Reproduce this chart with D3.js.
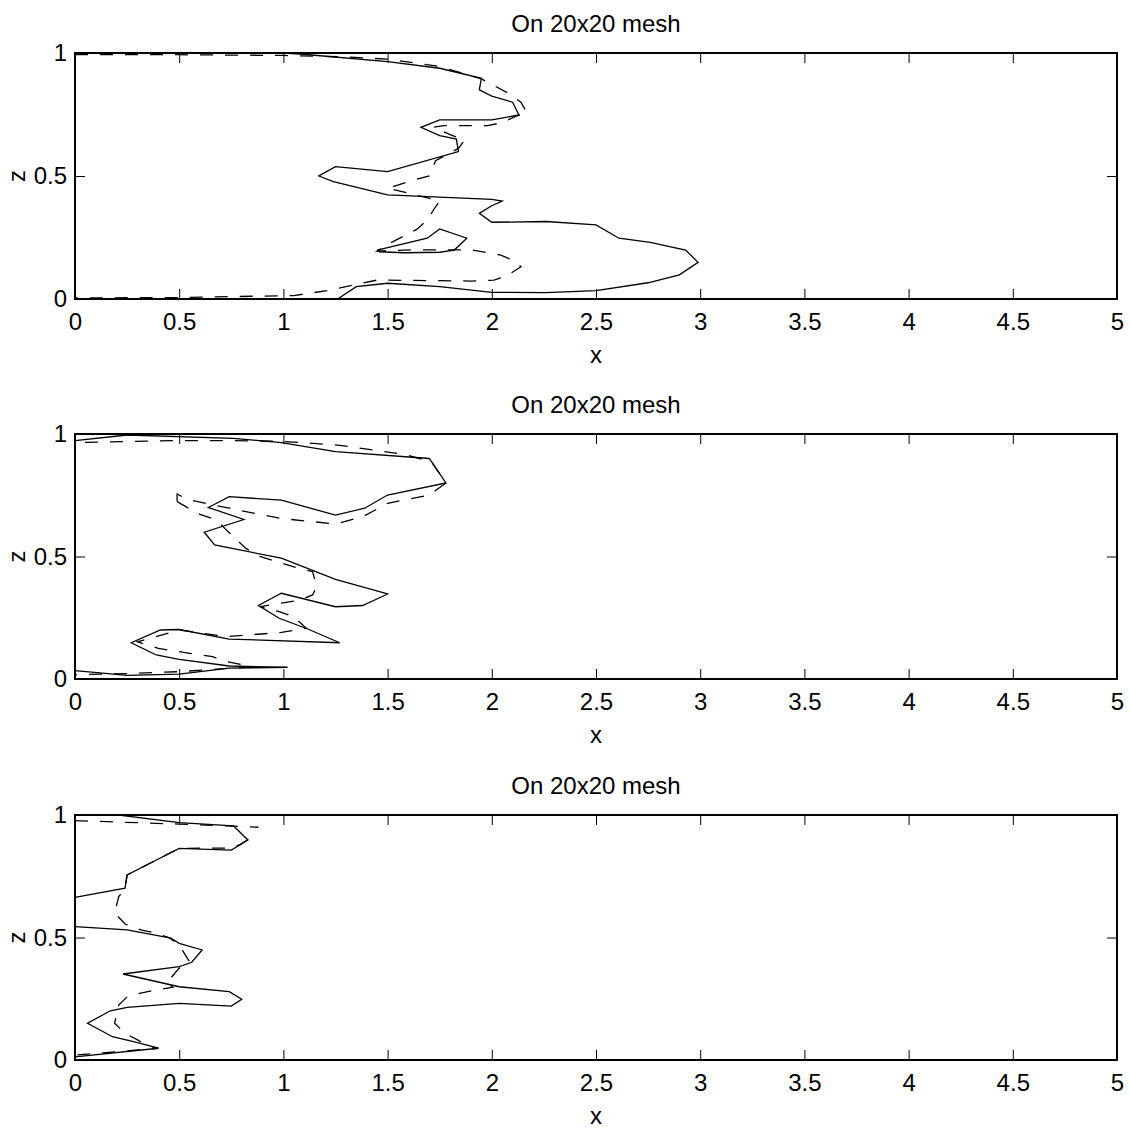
<!DOCTYPE html>
<html>
<head>
<meta charset="utf-8">
<script src="https://cdn.jsdelivr.net/npm/d3@7"></script>
<style>
  html, body { margin: 0; padding: 0; background: #fff; }
  svg { display: block; }
  text { font-family: "Liberation Sans", Arial, Helvetica, sans-serif; fill: #000; }
</style>
</head>
<body>
<svg id="chart" width="1130" height="1130"></svg>
<script>
// Axis ticks
const xTicks = [0, 0.5, 1, 1.5, 2, 2.5, 3, 3.5, 4, 4.5, 5];
const zTicks = [0, 0.5, 1];
const titleText = "On 20x20 mesh";

// Panel 1 contours, [x, z]
const solid1a = [[1.0,1.0],[1.08,0.996],[1.50,0.965],[1.75,0.938],[1.95,0.897],[1.94,0.85],[2.0,0.825],[2.10,0.80],[2.13,0.748],[2.0,0.728],[1.75,0.728],[1.66,0.698],[1.75,0.664],[1.83,0.65],[1.84,0.599],[1.50,0.518],[1.25,0.538],[1.17,0.50],[1.24,0.477],[1.50,0.423],[2.0,0.405],[2.05,0.398],[2.0,0.379],[1.94,0.348],[2.0,0.312],[2.26,0.315],[2.50,0.301],[2.61,0.247],[2.76,0.23],[2.93,0.199],[2.99,0.149],[2.90,0.098],[2.75,0.066],[2.50,0.034],[2.26,0.026],[2.0,0.027],[1.75,0.05],[1.50,0.064],[1.35,0.05],[1.26,0.0]];
const solid1b = [[1.45,0.199],[1.69,0.247],[1.75,0.285],[1.88,0.247],[1.82,0.199],[1.75,0.19],[1.58,0.188],[1.46,0.192],[1.45,0.199]];
const dashed1 = [[0,0.993],[0.5,0.993],[1.0,0.99],[1.3,0.984],[1.5,0.975],[1.75,0.945],[1.95,0.895],[2.08,0.836],[2.14,0.80],[2.17,0.755],[2.12,0.744],[2.05,0.717],[1.98,0.705],[1.77,0.705],[1.72,0.698],[1.80,0.668],[1.87,0.646],[1.84,0.612],[1.78,0.585],[1.73,0.562],[1.70,0.50],[1.62,0.483],[1.50,0.45],[1.58,0.434],[1.72,0.405],[1.75,0.398],[1.73,0.375],[1.69,0.321],[1.64,0.283],[1.51,0.226],[1.45,0.195],[1.62,0.20],[1.90,0.20],[2.04,0.179],[2.10,0.158],[2.14,0.131],[2.07,0.093],[2.01,0.077],[1.90,0.073],[1.45,0.077],[1.21,0.034],[1.05,0.014],[0.5,0.006],[0,0.004]];

// Panel 2 contours
const solid2 = [[0,0.973],[0.25,0.996],[0.76,0.982],[0.99,0.965],[1.25,0.928],[1.70,0.90],[1.78,0.80],[1.50,0.751],[1.39,0.697],[1.25,0.669],[0.99,0.73],[0.74,0.744],[0.64,0.70],[0.81,0.651],[0.62,0.599],[0.67,0.547],[0.99,0.493],[1.25,0.407],[1.50,0.347],[1.38,0.30],[1.25,0.295],[0.99,0.35],[0.88,0.30],[0.98,0.248],[1.12,0.203],[1.27,0.148],[0.74,0.163],[0.50,0.202],[0.41,0.20],[0.27,0.148],[0.39,0.098],[0.50,0.08],[0.74,0.053],[1.02,0.048],[0.74,0.044],[0.50,0.02],[0.25,0.015],[0,0.034]];
const dashed2a = [[0.49,0.724],[0.49,0.755],[0.54,0.733],[0.74,0.697],[0.99,0.655],[1.25,0.633],[1.38,0.662],[1.50,0.717],[1.70,0.751],[1.78,0.80],[1.71,0.887],[1.58,0.917],[1.26,0.955],[0.99,0.97],[0.76,0.973],[0.49,0.973],[0,0.965]];
const dashed2b = [[0.49,0.724],[0.56,0.69],[0.60,0.672],[0.67,0.652],[0.71,0.622],[0.76,0.581],[0.82,0.533],[0.89,0.499],[1.05,0.458],[1.14,0.438],[1.16,0.377],[1.14,0.343],[1.08,0.322],[0.99,0.31],[0.89,0.295],[0.98,0.275],[1.05,0.254],[1.11,0.207],[0.99,0.19],[0.73,0.173],[0.50,0.20],[0.30,0.152],[0.40,0.125],[0.55,0.105],[0.66,0.091],[0.73,0.071],[0.85,0.05],[0.50,0.03],[0.25,0.022],[0,0.018]];

// Panel 3 contours
const solid3a = [[0.21,1.0],[0.50,0.969],[0.76,0.956],[0.83,0.898],[0.75,0.857],[0.50,0.864],[0.36,0.803],[0.25,0.755],[0.24,0.701],[0,0.664]];
const solid3b = [[0,0.544],[0.25,0.531],[0.46,0.497],[0.50,0.476],[0.61,0.449],[0.56,0.399],[0.50,0.381],[0.23,0.351],[0.50,0.299],[0.74,0.279],[0.80,0.248],[0.75,0.22],[0.50,0.231],[0.25,0.215],[0.17,0.201],[0.06,0.15],[0.18,0.095],[0.30,0.071],[0.40,0.048],[0,0.013]];
const dashed3a = [[0,0.977],[0.5,0.963],[0.88,0.95]];
const dashed3b = [[0.83,0.90],[0.79,0.878],[0.73,0.865],[0.50,0.864],[0.36,0.803],[0.25,0.755],[0.24,0.70],[0.21,0.667],[0.19,0.60],[0.24,0.555],[0.32,0.53],[0.38,0.52],[0.45,0.50],[0.50,0.47],[0.55,0.40],[0.50,0.375],[0.44,0.315],[0.47,0.297],[0.39,0.286],[0.31,0.272],[0.25,0.258],[0.21,0.224],[0.19,0.15],[0.24,0.109],[0.30,0.082],[0.35,0.057],[0.40,0.048],[0,0.02]];

const panels = [
  { top: 53,  bottom: 299,  solid: [solid1a, solid1b], dashed: [dashed1] },
  { top: 434, bottom: 679,  solid: [solid2],           dashed: [dashed2a, dashed2b] },
  { top: 815, bottom: 1060, solid: [solid3a, solid3b], dashed: [dashed3a, dashed3b] }
];

const left = 75, right = 1117;
const fontSize = 24;
const svg = d3.select("#chart");
const fmt = d => String(d);

panels.forEach(p => {
  const x = d3.scaleLinear().domain([0, 5]).range([left, right]);
  const y = d3.scaleLinear().domain([0, 1]).range([p.bottom, p.top]);
  const g = svg.append("g");

  const line = d3.line().x(d => x(d[0])).y(d => y(d[1]));

  const clipId = "clip" + p.top;
  g.append("clipPath").attr("id", clipId)
    .append("rect").attr("x", left).attr("y", p.top)
    .attr("width", right - left).attr("height", p.bottom - p.top);

  const curves = g.append("g").attr("clip-path", `url(#${clipId})`);
  p.dashed.forEach(s => curves.append("path").datum(s).attr("d", line)
    .attr("fill", "none").attr("stroke", "#000").attr("stroke-width", 1.3)
    .attr("stroke-dasharray", "13,12"));
  p.solid.forEach(s => curves.append("path").datum(s).attr("d", line)
    .attr("fill", "none").attr("stroke", "#000").attr("stroke-width", 1.3));

  // Axes with inward ticks on all four sides
  const bottomAx = g.append("g").attr("transform", `translate(0,${p.bottom})`)
    .call(d3.axisBottom(x).tickValues(xTicks).tickSize(-10).tickPadding(14).tickFormat(fmt));
  const topAx = g.append("g").attr("transform", `translate(0,${p.top})`)
    .call(d3.axisTop(x).tickValues(xTicks).tickSize(-10).tickFormat(""));
  const leftAx = g.append("g").attr("transform", `translate(${left},0)`)
    .call(d3.axisLeft(y).tickValues(zTicks).tickSize(-10).tickPadding(8).tickFormat(fmt));
  const rightAx = g.append("g").attr("transform", `translate(${right},0)`)
    .call(d3.axisRight(y).tickValues(zTicks).tickSize(-10).tickFormat(""));

  [bottomAx, topAx, leftAx, rightAx].forEach(a => {
    a.select(".domain").remove();
    a.selectAll(".tick line").attr("stroke", "#000").attr("stroke-width", 1);
    a.selectAll("text").style("font-size", fontSize + "px")
      .style("font-family", "'Liberation Sans', Arial, sans-serif").attr("fill", "#000");
  });

  g.append("rect").attr("x", left).attr("y", p.top)
    .attr("width", right - left).attr("height", p.bottom - p.top)
    .attr("fill", "none").attr("stroke", "#000").attr("stroke-width", 2);

  g.append("text").attr("x", (left + right) / 2).attr("y", p.top - 21)
    .attr("text-anchor", "middle").style("font-size", fontSize + "px").text(titleText);
  g.append("text").attr("x", (left + right) / 2).attr("y", p.bottom + 64)
    .attr("text-anchor", "middle").style("font-size", fontSize + "px").text("x");
  g.append("text").attr("transform", `translate(25,${y(0.5)}) rotate(-90)`)
    .attr("text-anchor", "middle").style("font-size", fontSize + "px").text("z");
});
</script>
</body>
</html>
